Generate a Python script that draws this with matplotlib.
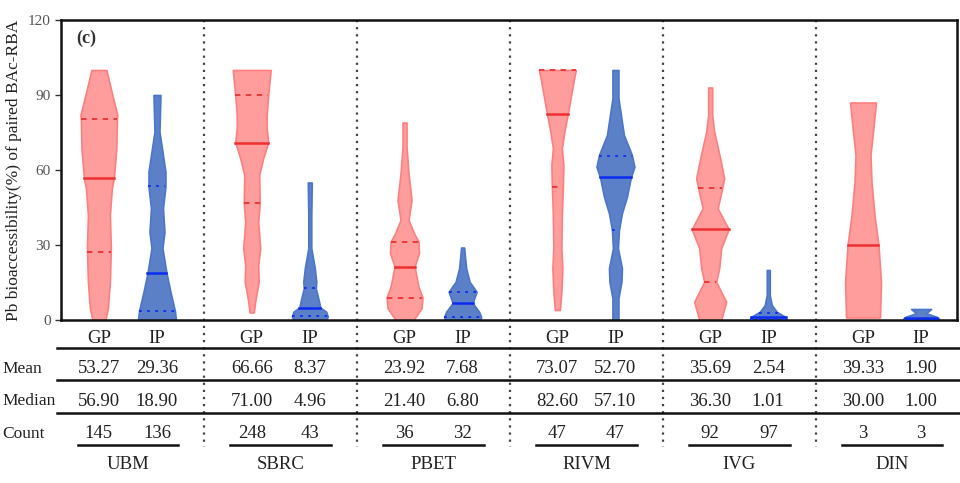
import numpy as np
import matplotlib.pyplot as plt
import matplotlib.transforms as mtransforms

plt.rcParams['font.family'] = ['Liberation Serif', 'DejaVu Serif']

methods = ['UBM', 'SBRC', 'PBET', 'RIVM', 'IVG', 'DIN']
groups = ['GP', 'IP']

mean_gp = [53.27, 66.66, 23.92, 73.07, 35.69, 39.33]
mean_ip = [29.36, 8.37, 7.68, 52.70, 2.54, 1.90]
median_gp = [56.90, 71.00, 21.40, 82.60, 36.30, 30.00]
median_ip = [18.90, 4.96, 6.80, 57.10, 1.01, 1.00]
count_gp = [145, 248, 36, 47, 92, 3]
count_ip = [136, 43, 32, 47, 97, 3]

# quartiles (Q1, Q3)
quart_gp = [[27.3, 80.3], [46.7, 90.0], [9.0, 31.3], [53.3, 100.0], [15.3, 52.7], []]
quart_ip = [[3.6, 53.7], [1.5, 12.7], [1.2, 11.3], [36.0, 65.5], [0.4, 3.0], []]

# violin outlines: value levels and relative density (width)
ubm_gp_v = [0, 4.7, 15.3, 28.7, 42, 52.7, 56.7, 68.7, 80.3, 82, 90, 100]
ubm_gp_w = [13, 18, 22, 24, 22, 26, 30, 35, 36, 37, 27, 15]
ubm_ip_v = [0, 3.6, 11.3, 18.9, 28.7, 35.3, 44.7, 53.3, 59.3, 66, 75.3, 90]
ubm_ip_w = [38, 36, 27, 19, 11, 15, 12, 17, 17, 12, 5, 7]
sbrc_gp_v = [3, 8.7, 15.3, 22, 28.7, 39.3, 46.7, 58, 64.7, 71, 76.7, 82, 90, 100]
sbrc_gp_w = [4, 8, 14, 13, 17, 13, 16, 15, 23, 33, 30, 30, 33, 38]
sbrc_ip_v = [0, 1.3, 3.3, 5, 8.7, 12.7, 15.3, 20.7, 28.7, 42, 55]
sbrc_ip_w = [32, 36, 33, 21, 17, 12, 13, 10, 3, 3, 4]
pbet_gp_v = [0, 4.7, 9, 13.3, 21.4, 26.7, 31.3, 34.7, 40, 48, 58.7, 69.3, 79]
pbet_gp_w = [18, 34, 36, 28, 20, 29, 28, 19, 8, 14, 8, 4, 4]
pbet_ip_v = [0, 1.3, 3.3, 6.8, 11.3, 15.3, 20.7, 29]
pbet_ip_w = [36, 37, 33, 20, 28, 14, 7, 3]
rivm_gp_v = [4, 11.3, 20.7, 28.7, 42, 53.3, 62, 68.7, 75.3, 82.6, 96, 100]
rivm_gp_w = [5, 8, 10, 8, 9, 11, 12, 9, 14, 21, 33, 37]
rivm_ip_v = [0, 8.7, 15.3, 20.7, 28.7, 36, 42.7, 49.3, 57.1, 61.3, 66, 74, 82, 88.7, 100]
rivm_ip_w = [6, 6, 12, 13, 5, 7, 13, 23, 31, 38, 33, 17, 11, 6, 6]
ivg_gp_v = [0, 7.3, 15.3, 20.7, 28.7, 36.3, 44.7, 52.7, 56.7, 64.7, 75.3, 82, 93]
ivg_gp_w = [22, 32, 12, 18, 22, 37, 15, 24, 28, 20, 8, 4, 4]
ivg_ip_v = [0, 1.3, 3.3, 6, 10, 20]
ivg_ip_w = [37, 34, 17, 7, 3, 3]
din_gp_v = [1, 15.3, 30, 42, 55.3, 66, 75.3, 87]
din_gp_w = [34, 36, 31, 23, 17, 15, 20, 26]
din_ip_v = [0.5, 1.3, 2.7, 4.4]
din_ip_w = [36, 31, 10, 20]

gp_shapes = [(ubm_gp_v, ubm_gp_w), (sbrc_gp_v, sbrc_gp_w), (pbet_gp_v, pbet_gp_w),
             (rivm_gp_v, rivm_gp_w), (ivg_gp_v, ivg_gp_w), (din_gp_v, din_gp_w)]
ip_shapes = [(ubm_ip_v, ubm_ip_w), (sbrc_ip_v, sbrc_ip_w), (pbet_ip_v, pbet_ip_w),
             (rivm_ip_v, rivm_ip_w), (ivg_ip_v, ivg_ip_w), (din_ip_v, din_ip_w)]

red_face, red_edge, red_line = '#ff9c9c', '#ff7f7f', '#ee3030'
blue_face, blue_edge, blue_line = '#5b80c8', '#4a76cc', '#0a2cf0'
txt = '#222222'

fig = plt.figure(figsize=(9.6, 4.83), dpi=100)
ax = fig.add_axes([61 / 960, 163 / 483, 896 / 960, 300 / 483])
ax.set_xlim(-0.438, 5.425)
ax.set_ylim(0, 120)

offset = 0.19
maxhalf = 0.124


def draw_violin(x, v, w, face, edge, line, med, quarts, qstyle):
    v = np.array(v, dtype=float)
    half = np.array(w, dtype=float) / 38 * maxhalf
    ax.fill_betweenx(v, x - half, x + half, facecolor=face, edgecolor=edge,
                     linewidth=1.2, zorder=2)
    hm = np.interp(med, v, half)
    ax.plot([x - hm, x + hm], [med, med], color=line, lw=1.8, zorder=3)
    for q in quarts:
        hq = np.interp(q, v, half)
        ax.plot([x - hq, x + hq], [q, q], color=line, lw=1.3, ls=qstyle, zorder=3)


for i in range(len(methods)):
    gv, gw = gp_shapes[i]
    iv, iw = ip_shapes[i]
    draw_violin(i - offset, gv, gw, red_face, red_edge, red_line,
                median_gp[i], quart_gp[i], (0, (3, 3)))
    draw_violin(i + offset, iv, iw, blue_face, blue_edge, blue_line,
                median_ip[i], quart_ip[i], (0, (1.5, 3)))

ax.set_yticks([0, 30, 60, 90, 120])
ax.tick_params(axis='y', direction='out', length=4, width=1, labelsize=11,
               labelcolor='#555555', color='#333333')
ax.set_xticks([])
for s in ax.spines.values():
    s.set_linewidth(1.8)
    s.set_color('#111111')

ax.set_ylabel('Pb bioaccessibility(%) of paired BAc-RBA', fontsize=12.5, color=txt)
ax.yaxis.set_label_coords(-0.043, 0.5)
ax.text(0.017, 0.94, '(c)', transform=ax.transAxes, fontsize=13, fontweight='bold',
        color='#333333', ha='left', va='center')

# table below the axes
trans = mtransforms.blended_transform_factory(ax.transData, ax.transAxes)
ftrans = mtransforms.blended_transform_factory(fig.transFigure, ax.transAxes)

for i in range(len(methods) - 1):
    ax.plot([i + 0.5, i + 0.5], [1.0, -0.423], transform=trans, clip_on=False,
            color='#444444', lw=1.6, ls=(0, (1, 2.2)), zorder=1)

y_grp, y_mean, y_med, y_cnt, y_name = -0.063, -0.163, -0.27, -0.38, -0.483
for yl in [-0.093, -0.2, -0.31]:
    ax.plot([-0.465, 5.445], [yl, yl], transform=trans, clip_on=False,
            color='#111111', lw=1.8)

for i, m in enumerate(methods):
    xg, xi = i - offset, i + offset
    kw = dict(transform=trans, ha='center', va='center', fontsize=13.5, color=txt)
    ax.text(xg, y_grp, groups[0], **kw)
    ax.text(xi, y_grp, groups[1], **kw)
    ax.text(xg, y_mean, f'{mean_gp[i]:.2f}', **kw)
    ax.text(xi, y_mean, f'{mean_ip[i]:.2f}', **kw)
    ax.text(xg, y_med, f'{median_gp[i]:.2f}', **kw)
    ax.text(xi, y_med, f'{median_ip[i]:.2f}', **kw)
    ax.text(xg, y_cnt, str(count_gp[i]), **kw)
    ax.text(xi, y_cnt, str(count_ip[i]), **kw)
    ax.text(i, y_name, m, **kw)
    ax.plot([i - 0.33, i + 0.33], [-0.417, -0.417], transform=trans,
            clip_on=False, color='#111111', lw=1.8)

for lab, yy in [('Mean', y_mean), ('Median', y_med), ('Count', y_cnt)]:
    ax.text(2 / 960, yy, lab, transform=ftrans, ha='left', va='center',
            fontsize=12.5, color=txt)

fig.savefig('out.png', dpi=100)
